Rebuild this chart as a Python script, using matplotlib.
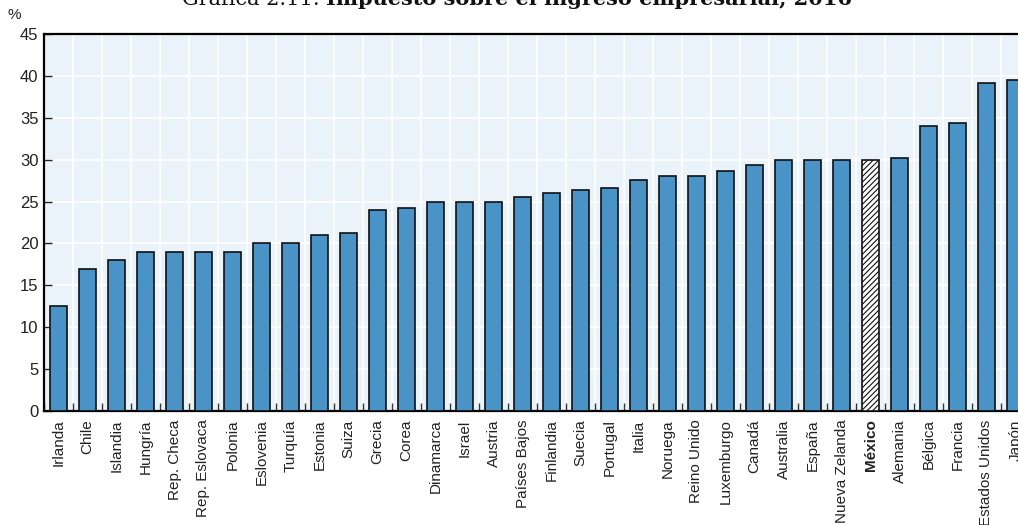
import matplotlib
matplotlib.use("Agg")
import matplotlib.pyplot as plt
from matplotlib import font_manager as fm
import numpy as np

countries = ["Irlanda", "Chile", "Islandia", "Hungría", "Rep. Checa", "Rep. Eslovaca",
             "Polonia", "Eslovenia", "Turquía", "Estonia", "Suiza", "Grecia", "Corea",
             "Dinamarca", "Israel", "Austria", "Países Bajos", "Finlandia", "Suecia",
             "Portugal", "Italia", "Noruega", "Reino Unido", "Luxemburgo", "Canadá",
             "Australia", "España", "Nueva Zelanda", "México", "Alemania", "Bélgica",
             "Francia", "Estados Unidos", "Japón"]
values = [12.5, 17.0, 18.0, 19.0, 19.0, 19.0,
          19.0, 20.0, 20.0, 21.0, 21.2, 24.0, 24.2,
          25.0, 25.0, 25.0, 25.5, 26.0, 26.4,
          26.6, 27.6, 28.0, 28.0, 28.6, 29.4,
          30.0, 30.0, 30.0, 30.0, 30.2, 34.0,
          34.4, 39.2, 39.5]
highlight = "México"
yticks = [0, 5, 10, 15, 20, 25, 30, 35, 40, 45]
title_prefix = "Gráfica 2.11. "
title_main = "Impuesto sobre el ingreso empresarial, 2016"

names = {f.name for f in fm.fontManager.ttflist}
narrow = "Liberation Sans Narrow" if "Liberation Sans Narrow" in names else "Liberation Sans"
plt.rcParams['font.family'] = [narrow, 'DejaVu Sans']
plt.rcParams['hatch.linewidth'] = 0.8

W, H = 1018, 525
fig = plt.figure(figsize=(W / 100, H / 100), dpi=100)
step = 29.0
n = len(countries)
left_px, top_px, bottom_px = 44, 34, 411
ax_w = n * step
ax = fig.add_axes([left_px / W, 1 - bottom_px / H, ax_w / W, (bottom_px - top_px) / H])
ax.set_facecolor("#EAF2FA")

x = np.arange(n)
colors = ["white" if c == highlight else "#4A93C7" for c in countries]
bars = ax.bar(x, values, width=0.6, color=colors, edgecolor="#111111", linewidth=1.2, zorder=3)
for b, c in zip(bars, countries):
    if c == highlight:
        b.set_hatch("//////")

ax.set_xlim(-0.5, n - 0.5)
ax.set_ylim(0, 45)
ax.set_yticks(yticks)
ax.set_yticklabels([str(v) for v in yticks], fontsize=12, color="#222222")
ax.set_xticks(x)
ax.set_xticklabels(countries, rotation=90, fontsize=11, color="#222222", va="top", ha="center")
for lab in ax.get_xticklabels():
    if lab.get_text() == highlight:
        lab.set_fontweight("bold")
ax.set_xticks(np.arange(n + 1) - 0.5, minor=True)

ax.tick_params(axis="x", which="major", length=0, pad=6)
ax.tick_params(axis="x", which="minor", direction="in", length=6, color="#333333", width=1)
ax.tick_params(axis="y", direction="in", length=6, color="#222222", width=1, pad=4)

ax.grid(axis="y", which="major", color="white", linewidth=1.2, zorder=0)
ax.grid(axis="x", which="minor", color="white", linewidth=1.2, zorder=0)
ax.set_axisbelow(True)

for s in ["top", "left", "bottom"]:
    ax.spines[s].set_color("black")
    ax.spines[s].set_linewidth(1.6)
ax.spines["right"].set_visible(False)

fig.text(14 / W, 1 - 19 / H, "%", fontsize=11, ha="center", va="baseline", color="#222222")

t1 = fig.text(182 / W, 1 - 5 / H, title_prefix, fontsize=15, family="DejaVu Serif",
              ha="left", va="baseline", color="#111111")
ax.annotate(title_main, xy=(1, 0), xycoords=t1, fontsize=15, family="DejaVu Serif",
            fontweight="bold", ha="left", va="bottom", color="#111111", annotation_clip=False)

fig.savefig("out.png", dpi=100)
